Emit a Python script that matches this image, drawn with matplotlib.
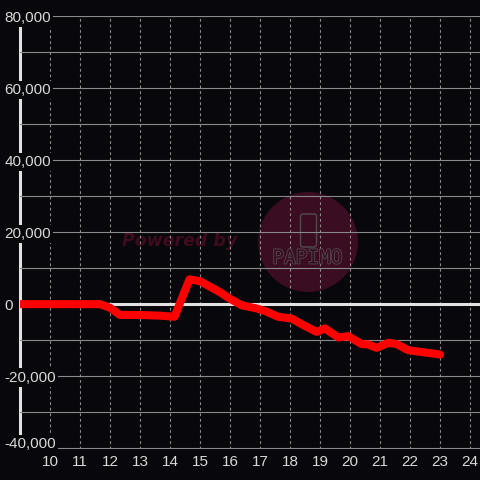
import matplotlib
matplotlib.use('Agg')
import matplotlib.pyplot as plt
import matplotlib.patheffects as pe
from matplotlib.patches import Circle, FancyBboxPatch

hours = [9.0, 11.67, 12.0, 12.33, 13.0, 13.67, 14.15, 14.65, 15.0, 15.67, 16.0,
         16.39, 16.89, 17.2, 17.6, 18.06, 18.44, 18.89, 19.17, 19.61, 19.94,
         20.39, 20.6, 20.89, 21.28, 21.56, 21.94, 23.0]
values = [0, 0, -1000, -3000, -3000, -3200, -3500, 6900, 6400, 3300, 1500,
          -300, -1200, -2000, -3500, -4000, -5800, -7700, -6750, -9260, -8900,
          -11100, -11200, -12140, -10750, -11100, -12800, -14000]

y_major = [-40000, -20000, 0, 20000, 40000, 60000, 80000]
y_labels = ['-40,000', '-20,000', '0', '20,000', '40,000', '60,000', '80,000']
y_minor = [-30000, -10000, 10000, 30000, 50000, 70000]
x_ticks = list(range(10, 25))

bg = '#08070b'
txt = '#d8d8d8'
grid_c = '#8a8a8a'

fig = plt.figure(figsize=(4.8, 4.8), dpi=100, facecolor=bg)
ax = fig.add_axes([20/480, 31/480, 460/480, 433/480])
ax.set_facecolor(bg)

# watermark (under the grid)
ax.add_patch(Circle((308/480, 1 - 242/480), 50/480, transform=fig.transFigure,
                    facecolor='#3b0d22', edgecolor='none', zorder=0.3))
ax.add_patch(FancyBboxPatch((300.5/480, 1 - 247/480), 16/480, 33/480,
                            boxstyle='round,pad=0,rounding_size=0.005',
                            transform=fig.transFigure, facecolor='none',
                            edgecolor='#4d474c', lw=1.1, zorder=0.35))
fig.text(307.5/480, 1 - 258/480, 'PAPIMO', ha='center', va='center',
         fontsize=14, family='DejaVu Sans Mono', color='#3b0d22', zorder=0.4,
         path_effects=[pe.withStroke(linewidth=1.3, foreground='#4d474c')])
ax.text(180/480, 1 - 241/480, 'Powered by', transform=fig.transFigure,
        ha='center', va='center', fontsize=12.5, fontweight='bold',
        fontstyle='italic', color='#3e0b1f', zorder=0.4)

ax.set_xlim(9.0, 9.0 + 460/30)
ax.set_ylim(-40278, 80139)

for s in ax.spines.values():
    s.set_visible(False)

ax.set_xticks(x_ticks)
ax.set_yticks(y_major)
ax.set_yticks(y_minor, minor=True)
ax.set_yticklabels(y_labels, ha='left')
ax.tick_params(axis='both', which='both', length=0, colors=txt, labelsize=11)
ax.tick_params(axis='y', pad=11)
ax.tick_params(axis='x', pad=4)
for lab in ax.get_xticklabels() + ax.get_yticklabels():
    lab.set_fontfamily('Liberation Sans')
for lab in ax.get_yticklabels():
    lab.set_bbox(dict(facecolor=bg, edgecolor='none', pad=1.5))
ax.get_yticklabels()[0].set_va('baseline')

ax.grid(axis='y', which='both', color=grid_c, lw=0.8, ls='-')
ax.grid(axis='x', color=grid_c, lw=0.8, ls=(0, (2.5, 2.5)))

ax.axvline(9.0, color='#e2e2e2', lw=2.2, zorder=1.0, clip_on=False)
ax.axhline(0, color='#e2e2e2', lw=2.2, zorder=1.6)

ax.plot(hours, values, color='#ff0000', lw=5.8, solid_joinstyle='round',
        solid_capstyle='round', zorder=3)

fig.savefig('out.png', dpi=100, facecolor=bg)
